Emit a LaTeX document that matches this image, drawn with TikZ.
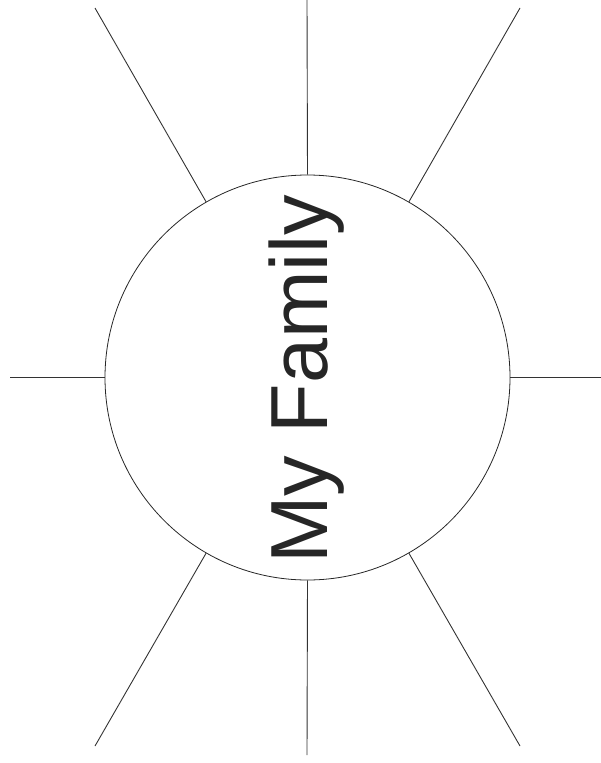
\documentclass[tikz,border=0pt]{standalone}
\usepackage{fontspec}
\setmainfont{Liberation Sans}
\begin{document}
\begin{tikzpicture}[x=1pt,y=-1pt,
  ray/.style={draw=black!80,line width=0.9pt},
  hub/.style={circle,draw=black!85,line width=0.8pt,minimum size=405pt,inner sep=0pt},
  title/.style={font=\fontsize{81}{90}\selectfont,text=black!85,rotate=90,anchor=base}]
\useasboundingbox (0,0) rectangle (601,763);
\node[hub] (c) at (307.5,377.5) {};
\node[title] (t) at (327,379) {My Family};
\coordinate (e1) at (307,0);
\coordinate (e2) at (520,8);
\coordinate (e3) at (601,377.5);
\coordinate (e4) at (520,746);
\coordinate (e5) at (307,755);
\coordinate (e6) at (95,746);
\coordinate (e7) at (10,377.5);
\coordinate (e8) at (95,8);
\draw[ray] (c.90) -- (e1);
\draw[ray] (c.60) -- (e2);
\draw[ray] (c.0) -- (e3);
\draw[ray] (c.-60) -- (e4);
\draw[ray] (c.-90) -- (e5);
\draw[ray] (c.-120) -- (e6);
\draw[ray] (c.180) -- (e7);
\draw[ray] (c.120) -- (e8);
\end{tikzpicture}
\end{document}
